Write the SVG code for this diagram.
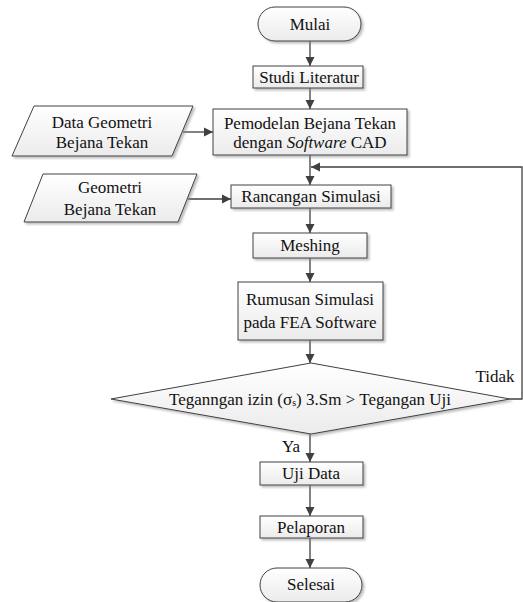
<svg xmlns="http://www.w3.org/2000/svg" width="523" height="602" viewBox="0 0 523 602" font-family="'Liberation Serif', Tinos, 'Times New Roman', 'DejaVu Serif', serif">
<style>
.shape{fill:url(#g);stroke:#404040;stroke-width:1;filter:url(#sh)}
.t{font-family:'Liberation Serif', Tinos, 'Times New Roman', 'DejaVu Serif', serif;font-size:17px;fill:#111;text-anchor:middle}
.c{fill:none;stroke:#404040;stroke-width:1.3}
</style>
<defs>
<linearGradient id="g" x1="0" y1="0" x2="0" y2="1">
<stop offset="0" stop-color="#ffffff"/>
<stop offset="1" stop-color="#ebebeb"/>
</linearGradient>
<filter id="sh" x="-10%" y="-10%" width="130%" height="140%">
<feDropShadow dx="2" dy="2" stdDeviation="0.8" flood-color="#888" flood-opacity="0.55"/>
</filter>
<marker id="a" markerWidth="10" markerHeight="10" refX="9" refY="5" orient="auto" markerUnits="userSpaceOnUse">
<path d="M0,0.5 L9,5 L0,9.5 Z" fill="#404040"/>
</marker>
</defs>

<g id="connectors">
<line class="c" x1="310" y1="41" x2="310" y2="66" marker-end="url(#a)"/>
<line class="c" x1="310" y1="88" x2="310" y2="109" marker-end="url(#a)"/>
<line class="c" x1="183" y1="132" x2="213" y2="132" marker-end="url(#a)"/>
<line class="c" x1="310" y1="155" x2="310" y2="185" marker-end="url(#a)"/>
<polyline class="c" points="510,399 522,399 522,167 311,167" marker-end="url(#a)"/>
<line class="c" x1="188" y1="199" x2="231" y2="199" marker-end="url(#a)"/>
<line class="c" x1="310" y1="208" x2="310" y2="233" marker-end="url(#a)"/>
<line class="c" x1="310" y1="258" x2="310" y2="282" marker-end="url(#a)"/>
<line class="c" x1="310" y1="340" x2="310" y2="363" marker-end="url(#a)"/>
<line class="c" x1="310" y1="434" x2="310" y2="462" marker-end="url(#a)"/>
<line class="c" x1="310" y1="485" x2="310" y2="516" marker-end="url(#a)"/>
<line class="c" x1="310" y1="538" x2="310" y2="568" marker-end="url(#a)"/>
<text class="t" x="495" y="382">Tidak</text>
<text class="t" x="291" y="452">Ya</text>
</g>

<g id="mulai">
<rect class="shape" x="258" y="7" width="103" height="34" rx="17" ry="17"/>
<text class="t" x="310" y="30">Mulai</text>
</g>

<g id="studi">
<rect class="shape" x="253" y="66" width="110" height="22"/>
<text class="t" x="309" y="83">Studi Literatur</text>
</g>

<g id="data-geometri">
<polygon class="shape" points="34,106 193,106 172,156 12,156"/>
<text class="t" x="102" y="128">Data Geometri</text>
<text class="t" x="102" y="148">Bejana Tekan</text>
</g>

<g id="pemodelan">
<rect class="shape" x="213" y="109" width="194" height="46"/>
<text class="t" x="310" y="129">Pemodelan Bejana Tekan</text>
<text class="t" x="310" y="148">dengan <tspan font-style="italic">Software</tspan> CAD</text>
</g>

<g id="geometri">
<polygon class="shape" points="43,174 197,174 178,222 24,222"/>
<text class="t" x="110" y="193">Geometri</text>
<text class="t" x="110" y="215">Bejana Tekan</text>
</g>

<g id="rancangan">
<rect class="shape" x="231" y="185" width="160" height="23"/>
<text class="t" x="311" y="202">Rancangan Simulasi</text>
</g>

<g id="meshing">
<rect class="shape" x="253" y="233" width="114" height="25"/>
<text class="t" x="310" y="251">Meshing</text>
</g>

<g id="rumusan">
<rect class="shape" x="238" y="282" width="145" height="58"/>
<text class="t" x="310" y="305">Rumusan Simulasi</text>
<text class="t" x="310" y="328">pada FEA Software</text>
</g>

<g id="keputusan">
<polygon class="shape" points="311,363 510,399 311,434 111,399"/>
<text class="t" x="310" y="405">Teganngan izin (σ<tspan font-size="10" dy="1">s</tspan><tspan dy="-1">) 3.Sm &gt; Tegangan Uji</tspan></text>
</g>

<g id="uji">
<rect class="shape" x="260" y="462" width="103" height="23"/>
<text class="t" x="311" y="479">Uji Data</text>
</g>

<g id="pelaporan">
<rect class="shape" x="260" y="516" width="103" height="22"/>
<text class="t" x="311" y="533">Pelaporan</text>
</g>

<g id="selesai">
<rect class="shape" x="260" y="568" width="102" height="34" rx="17" ry="17"/>
<text class="t" x="311" y="590">Selesai</text>
</g>
</svg>
